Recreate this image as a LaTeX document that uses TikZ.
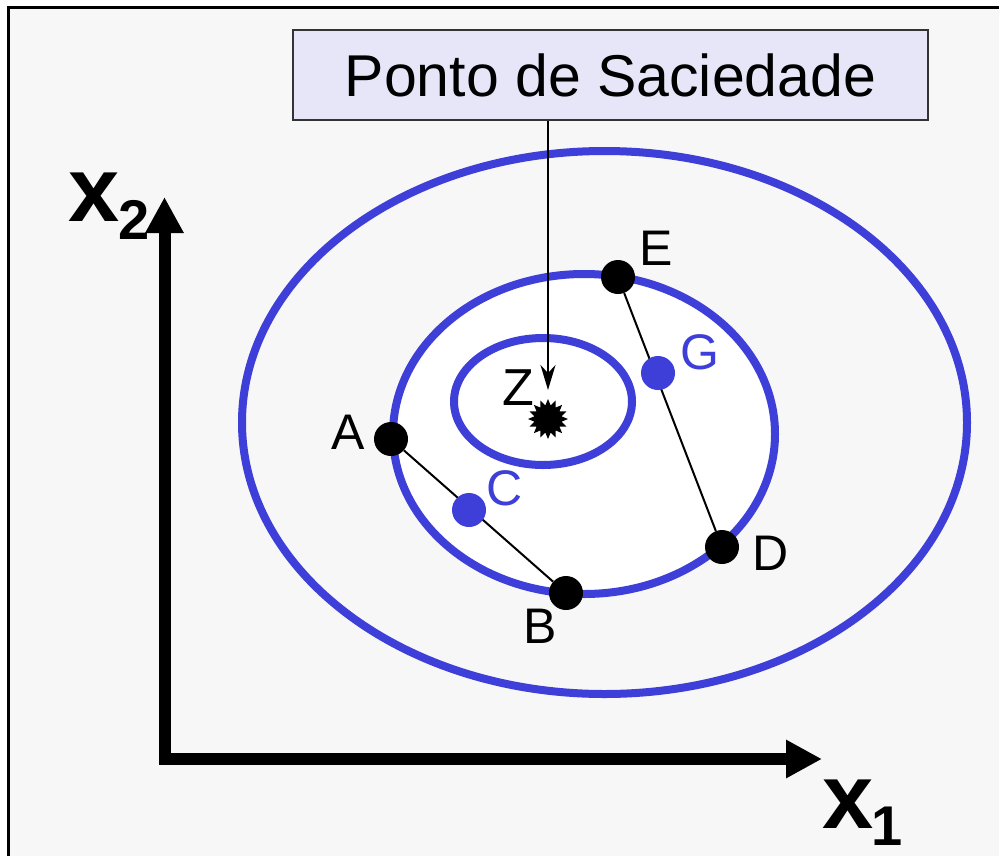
\documentclass[tikz,border=0pt]{standalone}
\usepackage{fontspec}
\setmainfont{Liberation Sans}
\usetikzlibrary{arrows.meta,shapes.geometric}
\definecolor{curveblue}{RGB}{62,62,216}
\definecolor{panelbg}{RGB}{247,247,247}
\definecolor{boxfill}{RGB}{230,230,248}
\begin{document}
\begin{tikzpicture}[x=1pt,y=-1pt,
  curve/.style={draw=curveblue,line width=8pt},
  pt/.style={circle,fill=black,minimum size=34pt,inner sep=0pt},
  bpt/.style={circle,fill=curveblue,minimum size=34pt,inner sep=0pt},
  lbl/.style={inner sep=0pt,font=\fontsize{50}{60}\selectfont},
  blbl/.style={lbl,text=curveblue},
  seg/.style={draw=black,line width=2pt},
  axis/.style={line width=12pt,line join=miter,{Triangle[length=36pt,width=36pt]}-{Triangle[length=36pt,width=36pt]}},
  axlbl/.style={inner sep=0pt,font=\fontsize{92}{100}\selectfont\bfseries},
  axsub/.style={inner sep=0pt,font=\fontsize{56}{64}\selectfont\bfseries}]
\useasboundingbox (0,0) rectangle (999,855);
\clip (0,0) rectangle (999,855);
\fill[white] (0,0) rectangle (999,855);
\draw[line width=3pt,fill=panelbg] (8.5,7) rectangle (1010,870);
% ellipses
\draw[curve] (604.5,422.5) ellipse [x radius=362.5,y radius=271.5];
\draw[curve,fill=white] (584,434) ellipse [x radius=191,y radius=160];
\draw[curve,fill=white] (543,401.5) ellipse [x radius=89,y radius=63.5];
% axes
\coordinate (ytip) at (164.5,197);
\coordinate (orig) at (164.5,759);
\coordinate (xtip) at (822,759);
\draw[axis] (ytip) -- (orig) -- (xtip);
\node[axlbl] (x1) at (848,804) {x};
\node[axsub] (x1s) at (887,826) {1};
\node[axlbl] (x2) at (94,197) {x};
\node[axsub] (x2s) at (134,220) {2};
% satiation point
\node[draw=black!80,line width=2pt,fill=boxfill,minimum width=635pt,minimum height=90pt,inner sep=0pt,
      font=\fontsize{59}{66}\selectfont] (box) at (610.5,75) {Ponto de Saciedade};
\node[star,star points=16,star point ratio=1.45,minimum size=40pt,inner sep=0pt,fill=black] (z) at (548,419) {};
\coordinate (ztop) at (548,390);
\draw[line width=2pt,-{Stealth[length=25pt,width=15pt,inset=8pt]}] (box.south -| ztop) -- (ztop);
\node[lbl,font=\fontsize{52}{60}\selectfont] (lZ) at (518,388) {Z};
% points
\node[pt] (A) at (391,439) {};
\node[pt] (B) at (566,593) {};
\node[pt] (E) at (618,277) {};
\node[pt] (D) at (722,547) {};
\draw[seg] (A) -- (B);
\draw[seg] (E) -- (D);
\node[bpt] (C) at (469,510) {};
\node[bpt] (G) at (658,373) {};
\node[lbl] (lA) at (348,432) {A};
\node[lbl] (lB) at (540,626) {B};
\node[lbl] (lE) at (656,248) {E};
\node[lbl] (lD) at (771,553) {D};
\node[blbl] (lC) at (505,488) {C};
\node[blbl] (lG) at (700,352) {G};
\end{tikzpicture}
\end{document}
